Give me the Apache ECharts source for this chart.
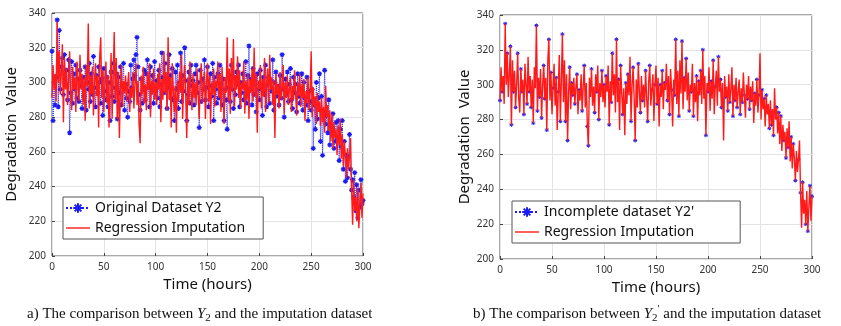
<!DOCTYPE html>
<html>
<head>
<meta charset="utf-8">
<script src="https://cdn.jsdelivr.net/npm/echarts@6/dist/echarts.min.js"></script>
<style>
  html, body { margin: 0; padding: 0; background: #fff; }
  #chart { width: 841px; height: 326px; }
</style>
</head>
<body>
<div id="chart"></div>
<script>
// degradation values, one per hour (0..300)
const imputed = [
  291, 310, 296, 305, 289, 335, 300, 318, 293, 306,
  322, 277, 314, 296, 308, 287, 300, 318, 292, 284,
  309, 296, 303, 283, 312, 300, 289, 316, 296, 305,
  287, 303, 278, 310, 298, 334, 285, 304, 293, 309,
  281, 300, 311, 292, 304, 274, 314, 326, 291, 307,
  283, 298, 312, 288, 304, 274, 296, 317, 279, 302,
  329, 290, 314, 279, 306, 268, 296, 310, 286, 301,
  294, 304, 289, 299, 306, 283, 297, 291, 306, 285,
  299, 311, 287, 301, 276, 265, 304, 293, 309, 288,
  299, 284, 306, 296, 311, 280, 301, 293, 308, 290,
  300, 287, 305, 296, 311, 277, 302, 290, 318, 294,
  306, 284, 326, 290, 303, 274, 311, 296, 283, 298,
  271, 301, 289, 306, 294, 316, 279, 300, 310, 292,
  268, 303, 287, 312, 296, 284, 305, 291, 300, 287,
  308, 293, 279, 302, 311, 288, 297, 306, 279, 300,
  311, 289, 304, 276, 300, 293, 308, 286, 301, 297,
  312, 291, 305, 283, 309, 297, 276, 303, 294, 326,
  289, 308, 282, 314, 295, 325, 286, 304, 296, 315,
  291, 307, 285, 300, 296, 312, 282, 301, 290, 305,
  279, 302, 294, 308, 289, 320, 292, 305, 271, 301,
  296, 310, 285, 302, 292, 314, 283, 299, 308, 288,
  316, 296, 303, 287, 301, 268, 305, 293, 299, 285,
  306, 290, 297, 310, 282, 300, 291, 304, 287, 296,
  303, 283, 298, 290, 307, 294, 281, 300, 292, 305,
  286, 299, 291, 302, 278, 295, 288, 303, 284, 294,
  318, 280, 297, 286, 292, 276, 294, 283, 289, 275,
  291, 277, 286, 271, 298, 280, 287, 272, 284, 266,
  282, 262, 277, 268, 273, 258, 275, 264, 279, 256,
  270, 252, 266, 258, 245, 262, 250, 257, 268, 238,
  218, 244, 226, 234, 220, 239, 216, 230, 242, 222,
  236
];

const original = [
  318, 278, 300, 287, 303, 336, 286, 330, 296, 309,
  314, 293, 316, 299, 307, 290, 313, 271, 294, 312,
  288, 305, 296, 310, 291, 302, 289, 307, 298, 285,
  303, 292, 309, 284, 300, 296, 311, 289, 305, 293,
  315, 297, 286, 304, 294, 309, 300, 288, 302, 281,
  308, 295, 290, 303, 286, 300, 278, 306, 292, 311,
  289, 297, 305, 279, 303, 294, 309, 287, 298, 311,
  284, 299, 291, 280, 295, 289, 310, 297, 302, 313,
  304, 316, 326, 309, 293, 284, 302, 288, 296, 307,
  290, 305, 313, 297, 286, 309, 298, 304, 288, 312,
  295, 301, 291, 307, 286, 299, 317, 303, 294, 311,
  300, 285, 297, 316, 304, 291, 308, 290, 278, 306,
  296, 310, 285, 300, 317, 289, 304, 295, 320, 301,
  278, 293, 306, 288, 310, 298, 301, 287, 305, 310,
  294, 300, 274, 307, 289, 302, 296, 313, 290, 297,
  309, 286, 298, 305, 292, 311, 278, 303, 296, 288,
  305, 291, 310, 299, 287, 302, 278, 296, 290, 273,
  297, 304, 289, 310, 296, 285, 303, 293, 306, 299,
  310, 286, 300, 294, 305, 290, 298, 312, 288, 304,
  321, 296, 302, 287, 308, 293, 299, 283, 305, 296,
  290, 307, 296, 281, 303, 293, 310, 286, 299, 303,
  288, 301, 295, 313, 284, 300, 306, 292, 298, 287,
  304, 291, 316, 296, 280, 302, 293, 306, 289, 299,
  308, 290, 285, 303, 294, 299, 283, 305, 292, 288,
  296, 305, 284, 300, 291, 287, 303, 278, 295, 289,
  284, 296, 262, 287, 273, 300, 279, 291, 305, 266,
  292, 258, 283, 307, 276, 281, 271, 290, 264, 275,
  270, 282, 262, 266, 277, 268, 278, 255, 273, 263,
  278, 250, 266, 243, 258, 245, 257, 270, 250, 238,
  244, 234, 248, 226, 241, 222, 238, 228, 244, 230,
  232
];

// hours with no observation in the incomplete dataset Y2'
const missingHours = [
  1, 3, 4, 6, 8, 9, 12, 14, 16, 18, 19, 22, 24, 25, 27, 29, 31, 33, 34, 37,
  39, 41, 44, 46, 48, 50, 52, 53, 55, 57, 59, 61, 62, 64, 66, 68, 71, 73, 75, 77,
  78, 80, 82, 83, 86, 87, 89, 90, 92, 94, 96, 97, 99, 101, 103, 104, 106, 109, 110, 111,
  113, 115, 117, 119, 120, 122, 124, 125, 127, 129, 131, 132, 134, 136, 138, 139, 141, 143, 145, 147,
  148, 150, 152, 153, 155, 157, 159, 160, 162, 164, 166, 167, 170, 171, 173, 174, 176, 178, 180, 181,
  183, 185, 187, 188, 190, 192, 194, 196, 197, 199, 201, 202, 204, 206, 208, 209, 211, 214, 215, 216,
  218, 220, 222, 223, 225, 227, 229, 230, 232, 234, 236, 237, 239, 241, 243, 244, 246, 248, 250, 251,
  253, 255, 257, 258, 260, 262, 264, 265, 267, 269, 271, 272, 274, 276, 278, 279, 281, 283, 285, 286,
  288, 290, 292, 293, 295, 297, 299
];

const imputedPts = imputed.map((v, h) => [h, v]);
const originalPts = original.map((v, h) => [h, v]);
const incompletePts = imputed.map((v, h) => [h, missingHours.includes(h) ? null : v]);

const BLUE = '#1c1cf2';
const RED = '#ff1a1a';
const FONT = 'Noto Sans';
const star = 'path://M0,-1L0,1M-1,0L1,0M-0.7,-0.7L0.7,0.7M-0.7,0.7L0.7,-0.7';
// plain line icon for the legend (the moveTos set the icon box to 24x12)
const lineIcon = 'path://M0,0M24,12M0,5.3H24V6.7H0Z';

function xAxis(gridIndex, nameGap) {
  return {
    gridIndex, type: 'value', min: 0, max: 300, interval: 50,
    name: 'Time (hours)', nameLocation: 'middle', nameGap,
    nameTextStyle: { fontFamily: FONT, fontSize: 15, color: '#111' },
    axisLine: { show: false },
    axisTick: { inside: true, length: 3, lineStyle: { color: '#444' } },
    axisLabel: { fontFamily: FONT, fontSize: 10, color: '#333', margin: 6 },
    splitLine: { show: true, lineStyle: { color: '#e3e3e3' } },
  };
}

function yAxis(gridIndex, nameGap) {
  return {
    gridIndex, type: 'value', min: 200, max: 340, interval: 20,
    name: 'Degradation  Value', nameLocation: 'middle', nameGap,
    nameTextStyle: { fontFamily: FONT, fontSize: 15, color: '#111' },
    axisLine: { show: false },
    axisTick: { inside: true, length: 3, lineStyle: { color: '#444' } },
    axisLabel: { fontFamily: FONT, fontSize: 10, color: '#333', margin: 6 },
    splitLine: { show: true, lineStyle: { color: '#e3e3e3' } },
  };
}

function legend(name, left, top, padRight) {
  return {
    orient: 'vertical', left, top,
    data: [name, { name: 'Regression Imputation', icon: lineIcon }],
    backgroundColor: '#fff', borderColor: '#555', borderWidth: 1,
    padding: [4, padRight, 4, 2], itemGap: 6, itemWidth: 24, itemHeight: 12,
    textStyle: { fontFamily: FONT, fontSize: 14, color: '#111' },
  };
}

const caption = {
  i: { fontFamily: 'Liberation Serif', fontStyle: 'italic', fontSize: 15, color: '#111', verticalAlign: 'middle' },
  sub: { fontFamily: 'Liberation Serif', fontSize: 11, color: '#111', verticalAlign: 'bottom' },
  sup: { fontFamily: 'Liberation Serif', fontSize: 11, color: '#111', verticalAlign: 'top' },
};

const chart = echarts.init(document.getElementById('chart'));
chart.setOption({
  animation: false,
  grid: [
    { left: 52, top: 13, width: 311, height: 243, show: true, borderColor: '#555', borderWidth: 1, backgroundColor: '#fff' },
    { left: 500, top: 15, width: 312, height: 244, show: true, borderColor: '#555', borderWidth: 1, backgroundColor: '#fff' },
  ],
  xAxis: [xAxis(0, 20), xAxis(1, 20)],
  yAxis: [yAxis(0, 33), yAxis(1, 28)],
  legend: [
    legend('Original Dataset Y2', 63, 197, 18),
    legend("Incomplete dataset Y2'", 512, 201, 46),
  ],
  series: [
    {
      name: 'Original Dataset Y2', type: 'line', xAxisIndex: 0, yAxisIndex: 0, z: 2,
      data: originalPts, symbol: star, symbolSize: 5, showAllSymbol: true,
      lineStyle: { color: BLUE, width: 1, type: 'dotted' },
      itemStyle: { color: BLUE, borderColor: BLUE, borderWidth: 1.2 },
    },
    {
      name: 'Regression Imputation', type: 'line', xAxisIndex: 0, yAxisIndex: 0, z: 3,
      data: imputedPts, symbol: 'none',
      lineStyle: { color: RED, width: 1.4 }, itemStyle: { color: RED },
    },
    {
      name: "Incomplete dataset Y2'", type: 'line', xAxisIndex: 1, yAxisIndex: 1, z: 2,
      data: incompletePts, connectNulls: false, symbol: star, symbolSize: 4, showAllSymbol: true,
      lineStyle: { color: BLUE, width: 1, type: 'dotted' },
      itemStyle: { color: BLUE, borderColor: BLUE, borderWidth: 1 },
    },
    {
      name: 'Regression Imputation', type: 'line', xAxisIndex: 1, yAxisIndex: 1, z: 3,
      data: imputedPts, symbol: 'none',
      lineStyle: { color: RED, width: 1.4 }, itemStyle: { color: RED },
    },
  ],
  graphic: [
    {
      type: 'text', left: 27, top: 304,
      style: {
        text: 'a) The comparison between {i|Y}{sub|2} and the imputation dataset',
        font: '15px "Liberation Serif"', fill: '#111', lineHeight: 20, rich: caption,
      },
    },
    {
      type: 'text', left: 473, top: 304,
      style: {
        text: "b) The comparison between {i|Y}{sub|2}{sup|'} and the imputation dataset",
        font: '15px "Liberation Serif"', fill: '#111', lineHeight: 20, rich: caption,
      },
    },
  ],
});
</script>
</body>
</html>
